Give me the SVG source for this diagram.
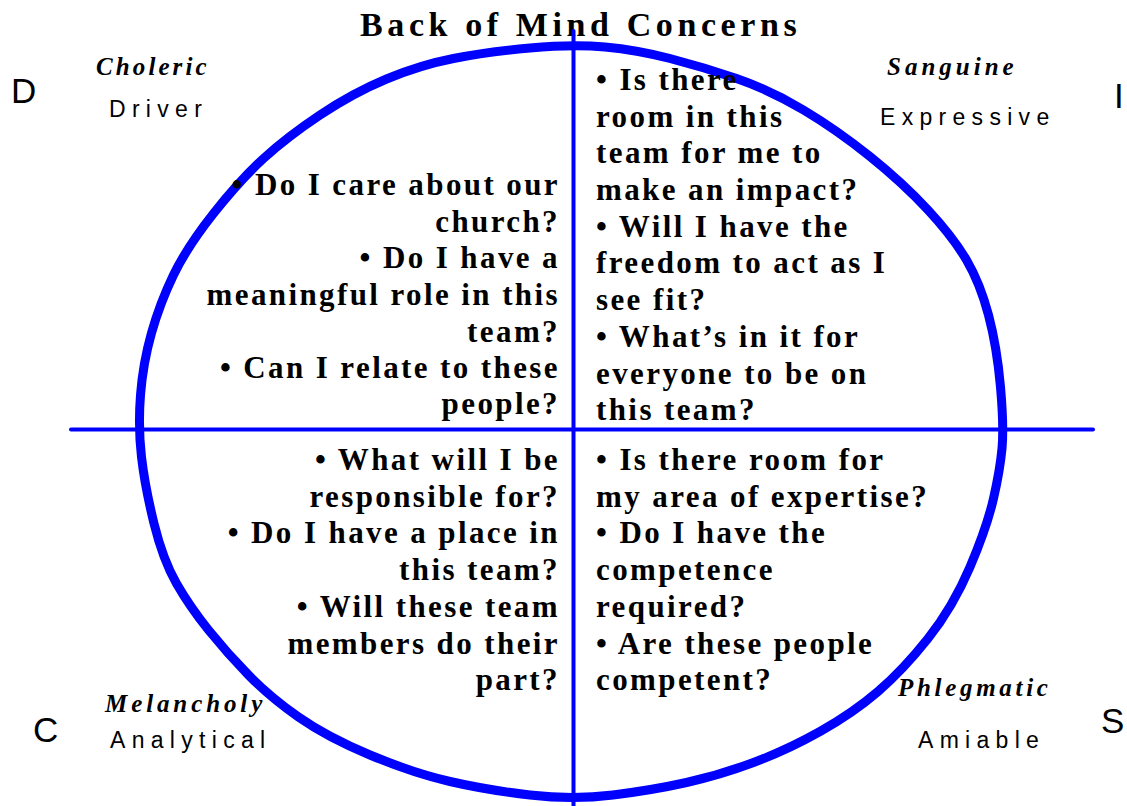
<svg xmlns="http://www.w3.org/2000/svg" width="1127" height="806" viewBox="0 0 1127 806">
<style>
.title{font-family:"Liberation Serif",serif;font-weight:bold;font-size:34px;letter-spacing:4.6px;fill:#000}
.q{font-family:"Liberation Serif",serif;font-weight:bold;font-size:31px;letter-spacing:2.4px;fill:#000}
.end{text-anchor:end}
.temper{font-family:"Liberation Serif",serif;font-weight:bold;font-style:italic;font-size:25px;fill:#000}
.style{font-family:"Liberation Sans",Arial,sans-serif;font-size:23px;letter-spacing:6.3px;fill:#000}
.big{font-family:"Liberation Sans",Arial,sans-serif;font-size:35px;fill:#000}
.ring{fill:none;stroke:#0000FF;stroke-width:9;stroke-linejoin:round}
.axis{stroke:#0000FF;stroke-width:4;stroke-linecap:round}
</style>
<rect width="1127" height="806" fill="#fff"/>
<text class="title" x="360" y="36">Back of Mind Concerns</text>
<g id="connectors">
<path class="ring" d="M 605,47 Q 637,50 670,58.5 Q 703,67 736.5,78.5 Q 770,90 803.5,110 Q 837,130 870,156.5 Q 903,183 928,210 Q 953,237 966.5,260 Q 980,283 988.5,315 Q 997,347 1000.5,387 Q 1004,427 1002,448.5 Q 1000,470 993.5,498.5 Q 987,527 970,567 Q 953,607 928,638.5 Q 903,670 878,691.5 Q 853,713 820,731.5 Q 787,750 753.5,762.5 Q 720,775 686.5,782.5 Q 653,790 613,795 Q 573,800 530,795 Q 487,790 450,781.5 Q 413,773 370,755 Q 327,737 298.5,717 Q 270,697 248.5,675 Q 227,653 208.5,630 Q 190,607 176.5,583.5 Q 163,560 154,523.5 Q 145,487 141.5,457 Q 138,427 140.5,395 Q 143,363 151.5,333 Q 160,303 173.5,275 Q 187,247 213.5,213.5 Q 240,180 263.5,158.5 Q 287,137 320,115 Q 353,93 386.5,79 Q 420,65 453.5,58.5 Q 487,52 530,48 Q 573,44 605,47 Z"/>
<line class="axis" x1="573.5" y1="31" x2="573.5" y2="810"/>
<line class="axis" x1="71" y1="429.5" x2="1093" y2="429.5"/>
</g>
<g id="corner-D">
<text class="big" x="11" y="103">D</text>
<text class="temper" x="96" y="75" style="letter-spacing:3.1px">Choleric</text>
<text class="style" x="109" y="117">Driver</text>
</g>
<g id="corner-I">
<text class="big" x="1114" y="108">I</text>
<text class="temper" x="887" y="75" style="letter-spacing:4px">Sanguine</text>
<text class="style" x="880" y="125">Expressive</text>
</g>
<g id="corner-C">
<text class="big" x="33" y="742">C</text>
<text class="temper" x="105" y="712" style="letter-spacing:3.9px">Melancholy</text>
<text class="style" x="110" y="748">Analytical</text>
</g>
<g id="corner-S">
<text class="big" x="1101" y="733">S</text>
<text class="temper" x="898" y="696" style="letter-spacing:3.7px">Phlegmatic</text>
<text class="style" x="918" y="748">Amiable</text>
</g>
<g id="quadrant-D">
<text class="q end" x="560" y="195">• Do I care about our</text>
<text class="q end" x="560" y="232">church?</text>
<text class="q end" x="560" y="268">• Do I have a</text>
<text class="q end" x="560" y="305">meaningful role in this</text>
<text class="q end" x="560" y="342">team?</text>
<text class="q end" x="560" y="378">• Can I relate to these</text>
<text class="q end" x="560" y="414">people?</text>
</g>
<g id="quadrant-I">
<text class="q" x="596" y="90">• Is there</text>
<text class="q" x="596" y="127">room in this</text>
<text class="q" x="596" y="163">team for me to</text>
<text class="q" x="596" y="200">make an impact?</text>
<text class="q" x="596" y="237">• Will I have the</text>
<text class="q" x="596" y="273">freedom to act as I</text>
<text class="q" x="596" y="310">see fit?</text>
<text class="q" x="596" y="347">• What’s in it for</text>
<text class="q" x="596" y="384">everyone to be on</text>
<text class="q" x="596" y="420">this team?</text>
</g>
<g id="quadrant-C">
<text class="q end" x="560" y="470">• What will I be</text>
<text class="q end" x="560" y="507">responsible for?</text>
<text class="q end" x="560" y="543">• Do I have a place in</text>
<text class="q end" x="560" y="580">this team?</text>
<text class="q end" x="560" y="617">• Will these team</text>
<text class="q end" x="560" y="654">members do their</text>
<text class="q end" x="560" y="690">part?</text>
</g>
<g id="quadrant-S">
<text class="q" x="596" y="470">• Is there room for</text>
<text class="q" x="596" y="507">my area of expertise?</text>
<text class="q" x="596" y="543">• Do I have the</text>
<text class="q" x="596" y="580">competence</text>
<text class="q" x="596" y="617">required?</text>
<text class="q" x="596" y="654">• Are these people</text>
<text class="q" x="596" y="690">competent?</text>
</g>
</svg>
